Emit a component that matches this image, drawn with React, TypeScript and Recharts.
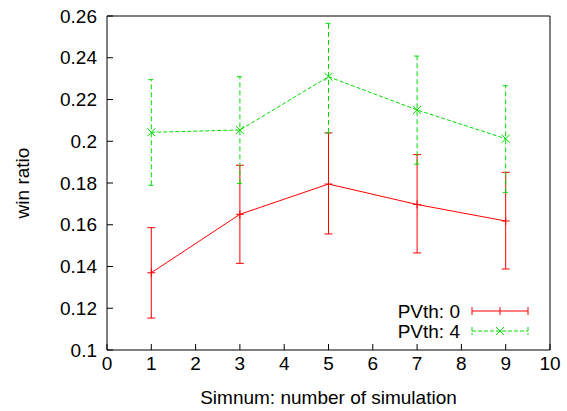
import React from 'react';
import { LineChart, Line, XAxis, YAxis, ErrorBar, Label } from 'recharts';

const simnum = [1, 3, 5, 7, 9];
const pv0Mean = [0.137, 0.165, 0.1795, 0.1697, 0.1618];
const pv0Low = [0.1153, 0.1415, 0.1556, 0.1465, 0.1388];
const pv0High = [0.1586, 0.1885, 0.204, 0.1936, 0.1851];
const pv4Mean = [0.2043, 0.2054, 0.2309, 0.215, 0.2012];
const pv4Low = [0.1789, 0.1798, 0.204, 0.189, 0.1755];
const pv4High = [0.2295, 0.2309, 0.2565, 0.2408, 0.2266];
const xTicks = [0, 1, 2, 3, 4, 5, 6, 7, 8, 9, 10];
const yTicks = [0.1, 0.12, 0.14, 0.16, 0.18, 0.2, 0.22, 0.24, 0.26];
const seriesNames = ['PVth: 0', 'PVth: 4'];

const RED = '#ff0000';
const GREEN = '#00dd00';
const FONT = '"Liberation Sans", Arial, sans-serif';

const data = simnum.map((s, i) => ({
  simnum: s,
  pv0: pv0Mean[i],
  pv0Err: [pv0Mean[i] - pv0Low[i], pv0High[i] - pv0Mean[i]],
  pv4: pv4Mean[i],
  pv4Err: [pv4Mean[i] - pv4Low[i], pv4High[i] - pv4Mean[i]],
}));

const PlusDot = (props: any) => {
  const { cx, cy, index } = props;
  return (
    <path key={`p-${index}`} d={`M${cx - 4},${cy}H${cx + 4}M${cx},${cy - 4}V${cy + 4}`} stroke={RED} strokeWidth={1} />
  );
};

const CrossDot = (props: any) => {
  const { cx, cy, index } = props;
  return (
    <path
      key={`x-${index}`}
      d={`M${cx - 4},${cy - 4}L${cx + 4},${cy + 4}M${cx - 4},${cy + 4}L${cx + 4},${cy - 4}`}
      stroke={GREEN}
      strokeWidth={1}
    />
  );
};

// gnuplot-style key, bottom right inside the frame
const KeyBox = () => (
  <svg width={170} height={44} style={{ position: 'absolute', left: 380, top: 300 }}>
    <g fontFamily={FONT} fontSize={19} fill="#000">
      <text x={80} y={18} textAnchor="end">{seriesNames[0]}</text>
      <text x={80} y={38} textAnchor="end">{seriesNames[1]}</text>
    </g>
    <path d="M92,11H148M92,7V15M148,7V15M120,7V15" stroke={RED} strokeWidth={1} fill="none" />
    <path d="M92,31H148M92,27V35M148,27V35" stroke={GREEN} strokeWidth={1} strokeDasharray="4 2" fill="none" />
    <path d="M116,27L124,35M116,35L124,27" stroke={GREEN} strokeWidth={1} />
  </svg>
);

const App = () => {
  return (
    <div style={{ position: 'absolute', left: 0, top: 0, width: 567, height: 411, background: '#fff' }}>
      <LineChart width={567} height={411} data={data} margin={{ top: 15, right: 16, bottom: 0, left: 47 }}>
        <XAxis
          dataKey="simnum"
          type="number"
          domain={[0, 10]}
          ticks={xTicks}
          height={61}
          stroke="#000"
          tickSize={-6}
          tickMargin={13}
          tick={{ fill: '#000', fontSize: 19, fontFamily: FONT }}
        >
          <Label
            value="Simnum: number of simulation"
            position="insideBottom"
            offset={7}
            style={{ fill: '#000', fontSize: 19, fontFamily: FONT }}
          />
        </XAxis>
        <XAxis
          xAxisId="top"
          orientation="top"
          dataKey="simnum"
          type="number"
          domain={[0, 10]}
          ticks={xTicks}
          height={1}
          stroke="#000"
          tickSize={-6}
          tick={false}
        />
        <YAxis
          type="number"
          domain={[0.1, 0.26]}
          ticks={yTicks}
          width={60}
          stroke="#000"
          tickSize={-6}
          tickMargin={16}
          tick={{ fill: '#000', fontSize: 19, fontFamily: FONT }}
        >
          <Label
            value="win ratio"
            angle={-90}
            position="insideLeft"
            offset={-25}
            style={{ fill: '#000', fontSize: 19, fontFamily: FONT, textAnchor: 'middle' }}
          />
        </YAxis>
        <YAxis
          yAxisId="right"
          orientation="right"
          type="number"
          domain={[0.1, 0.26]}
          ticks={yTicks}
          width={1}
          stroke="#000"
          tickSize={-6}
          tick={false}
        />
        <Line
          name={seriesNames[0]}
          dataKey="pv0"
          stroke={RED}
          strokeWidth={1}
          dot={PlusDot}
          activeDot={false}
          isAnimationActive={false}
        >
          <ErrorBar dataKey="pv0Err" width={4} stroke={RED} strokeWidth={1} direction="y" isAnimationActive={false} />
        </Line>
        <Line
          name={seriesNames[1]}
          dataKey="pv4"
          stroke={GREEN}
          strokeWidth={1}
          strokeDasharray="4 2"
          dot={CrossDot}
          activeDot={false}
          isAnimationActive={false}
        >
          <ErrorBar
            dataKey="pv4Err"
            width={3}
            stroke={GREEN}
            strokeWidth={1}
            strokeDasharray="5 3"
            direction="y"
            isAnimationActive={false}
          />
        </Line>
      </LineChart>
      <KeyBox />
    </div>
  );
};

export default App;
